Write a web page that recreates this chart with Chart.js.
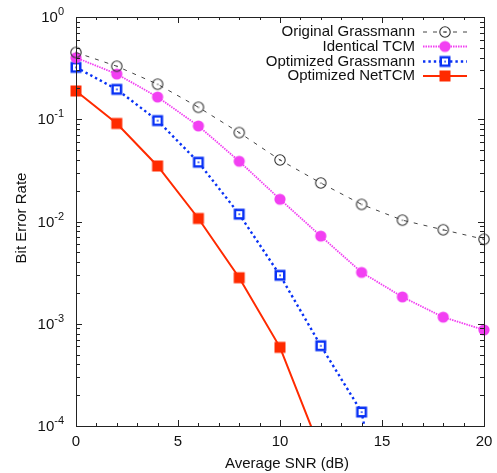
<!DOCTYPE html>
<html>
<head>
<meta charset="utf-8">
<script src="https://cdn.jsdelivr.net/npm/chart.js@4"></script>
<style>
  body { margin: 0; background: #fff; }
  #wrap { width: 497px; height: 473px; }
</style>
</head>
<body>
<div id="wrap"><canvas id="myChart" width="497" height="473"></canvas></div>
<script>
// Data
let snr = [0, 2, 4, 6, 8, 10, 12, 14, 16, 18, 20];
let originalGrassmann = [0.45, 0.33, 0.22, 0.131, 0.074, 0.040, 0.0238, 0.0147, 0.0103, 0.0083, 0.0067];
let identicalTCM = [0.40, 0.277, 0.165, 0.086, 0.0388, 0.0165, 0.0072, 0.00318, 0.00183, 0.00116, 0.00087];
let optimizedGrassmann = [0.322, 0.196, 0.097, 0.038, 0.0118, 0.00298, 0.00061, 0.000137, 0.0000012];
let optimizedNetTCM = [0.189, 0.091, 0.0349, 0.0107, 0.00282, 0.000588, 0.000057];
let seriesNames = ['Original Grassmann', 'Identical TCM', 'Optimized Grassmann', 'Optimized NetTCM'];
let xTicks = [0, 5, 10, 15, 20];
let yTickExps = [0, -1, -2, -3, -4];

let FONT = '"Liberation Sans", Arial, Helvetica, sans-serif';

function pairs(ys) {
    return ys.map(function(y, i) { return { x: snr[i], y: y }; });
}

// marker images
function makeMarker(kind) {
    let c = document.createElement('canvas');
    c.width = 16; c.height = 16;
    let g = c.getContext('2d');
    if (kind === 'openCircle') {
        g.strokeStyle = '#333'; g.lineWidth = 1.1;
        g.beginPath(); g.arc(8, 8, 5.2, 0, Math.PI * 2); g.stroke();
        g.fillStyle = '#333'; g.fillRect(7.5, 7.5, 1.2, 1.2);
    } else if (kind === 'fillCircle') {
        g.fillStyle = '#f23ff2';
        g.beginPath(); g.arc(8, 8, 5.6, 0, Math.PI * 2); g.fill();
    } else if (kind === 'openSquare') {
        g.fillStyle = '#0a32f5';
        g.fillRect(2.5, 2.5, 11, 11);
        g.fillStyle = '#fff';
        g.fillRect(5, 5, 6, 6);
        g.fillStyle = '#0a32f5';
        g.fillRect(7.3, 7.3, 1.6, 1.6);
    } else {
        g.fillStyle = '#ff2a00';
        g.fillRect(2.5, 2.5, 11, 11);
    }
    return c;
}

let markers = [makeMarker('openCircle'), makeMarker('fillCircle'), makeMarker('openSquare'), makeMarker('fillSquare')];
let colors = ['#444444', '#f23ff2', '#0a32f5', '#ff2a00'];
let widths = [1, 1.8, 2.4, 2];
let dashes = [[4, 6], [1.5, 1], [2.4, 3], []];

let seriesData = [originalGrassmann, identicalTCM, optimizedGrassmann, optimizedNetTCM];

let datasets = seriesData.map(function(d, i) {
    return {
        label: seriesNames[i],
        data: pairs(d),
        borderColor: colors[i],
        backgroundColor: colors[i],
        borderWidth: widths[i],
        borderDash: dashes[i],
        pointStyle: markers[i],
        pointRadius: 6,
        tension: 0,
        clip: { left: 10, top: 10, right: 10, bottom: 0 }
    };
});

// frame, inside ticks, tick labels, titles, legend
let decorPlugin = {
    id: 'decor',
    afterDraw: function(chart) {
        let ctx = chart.ctx;
        let a = chart.chartArea;
        let xs = chart.scales.x, ys = chart.scales.y;
        ctx.save();
        ctx.strokeStyle = '#222';
        ctx.lineWidth = 1;
        ctx.strokeRect(Math.round(a.left) + 0.5, Math.round(a.top) + 0.5, Math.round(a.right - a.left), Math.round(a.bottom - a.top));

        ctx.beginPath();
        for (let v = 0; v <= 20; v++) {
            let px = Math.round(xs.getPixelForValue(v)) + 0.5;
            let len = (v % 5 === 0) ? 6 : 3;
            ctx.moveTo(px, a.bottom); ctx.lineTo(px, a.bottom - len);
            ctx.moveTo(px, a.top); ctx.lineTo(px, a.top + len);
        }
        for (let e = -4; e <= 0; e++) {
            for (let m = 1; m <= 9; m++) {
                let val = m * Math.pow(10, e);
                if (val > 1) break;
                let py = Math.round(ys.getPixelForValue(val)) + 0.5;
                let len = (m === 1) ? 6 : 4;
                ctx.moveTo(a.left, py); ctx.lineTo(a.left + len, py);
                ctx.moveTo(a.right, py); ctx.lineTo(a.right - len, py);
            }
        }
        ctx.stroke();

        // tick labels
        ctx.fillStyle = '#111';
        ctx.font = '15px ' + FONT;
        ctx.textAlign = 'center';
        ctx.textBaseline = 'middle';
        xTicks.forEach(function(t) {
            ctx.fillText(String(t), xs.getPixelForValue(t), 442);
        });
        yTickExps.forEach(function(e) {
            let py = ys.getPixelForValue(Math.pow(10, e));
            let exp = String(e);
            ctx.font = '11px ' + FONT;
            let ew = ctx.measureText(exp).width;
            ctx.font = '15px ' + FONT;
            let bw = ctx.measureText('10').width;
            let right = 64;
            ctx.textAlign = 'left';
            ctx.textBaseline = 'middle';
            ctx.fillText('10', right - ew - bw, py + 1);
            ctx.font = '11px ' + FONT;
            ctx.fillText(exp, right - ew, py - 5);
        });

        // axis titles
        ctx.font = '15px ' + FONT;
        ctx.textAlign = 'center';
        ctx.textBaseline = 'middle';
        ctx.fillText('Average SNR (dB)', 287, 464);
        ctx.save();
        ctx.translate(22, 218);
        ctx.rotate(-Math.PI / 2);
        ctx.fillText('Bit Error Rate', 0, 0);
        ctx.restore();

        // legend
        let rowY = [32, 46.5, 61.5, 76];
        ctx.font = '15px ' + FONT;
        chart.data.datasets.forEach(function(ds, i) {
            let y = rowY[i];
            ctx.fillStyle = '#111';
            ctx.textAlign = 'right';
            ctx.textBaseline = 'middle';
            ctx.fillText(ds.label, 415, y);
            ctx.strokeStyle = ds.borderColor;
            ctx.lineWidth = ds.borderWidth;
            ctx.setLineDash(ds.borderDash);
            ctx.beginPath();
            ctx.moveTo(423, y); ctx.lineTo(467, y);
            ctx.stroke();
            ctx.setLineDash([]);
            ctx.drawImage(ds.pointStyle, 445 - 8, y - 8);
        });
        ctx.restore();
    }
};

let ctx = document.getElementById('myChart').getContext('2d');
let myChart = new Chart(ctx, {
    type: 'line',
    data: { datasets: datasets },
    options: {
        responsive: false,
        animation: false,
        layout: { padding: { left: 76, top: 17, right: 13, bottom: 47 } },
        plugins: { legend: { display: false }, tooltip: { enabled: false } },
        scales: {
            x: { type: 'linear', min: 0, max: 20, display: false },
            y: { type: 'logarithmic', min: 1e-4, max: 1, display: false }
        }
    },
    plugins: [decorPlugin]
});
</script>
</body>
</html>
